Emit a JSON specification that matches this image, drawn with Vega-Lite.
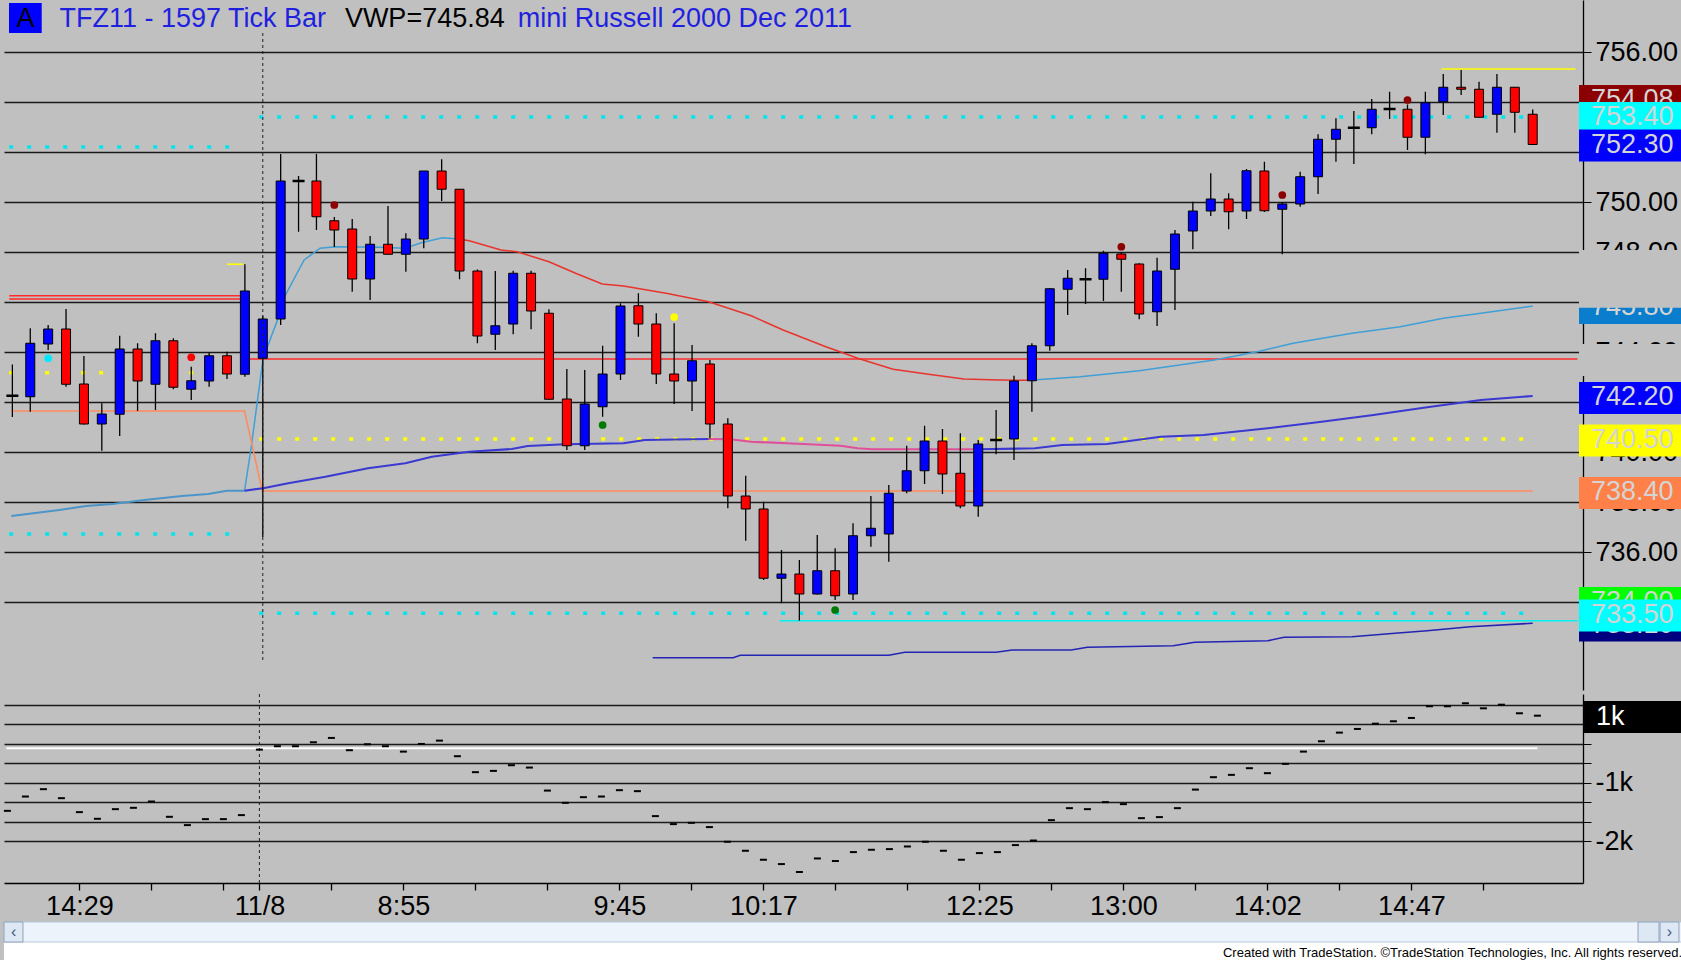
{
  "$schema": "https://vega.github.io/schema/vega-lite/v6.json",
  "background": "#c0c0c0",
  "padding": {"left": 3, "top": 0, "right": 0, "bottom": 0},
  "spacing": 0,
  "config": {"view": {"stroke": null}, "font": "Liberation Sans"},
  "datasets": {
    "one": [{}],
    "bars": [
      {"i":0,"o":742.25,"h":743.5,"l":741.4,"c":742.25},
      {"i":1,"o":742.21,"h":744.95,"l":741.61,"c":744.35},
      {"i":2,"o":744.32,"h":745.08,"l":744.08,"c":744.92},
      {"i":3,"o":744.92,"h":745.72,"l":742.61,"c":742.71},
      {"i":4,"o":742.72,"h":743.84,"l":741.1,"c":741.12},
      {"i":5,"o":741.12,"h":741.95,"l":740.05,"c":741.52},
      {"i":6,"o":741.51,"h":744.65,"l":740.64,"c":744.12},
      {"i":7,"o":744.12,"h":744.35,"l":741.64,"c":742.84},
      {"i":8,"o":742.71,"h":744.75,"l":741.68,"c":744.45},
      {"i":9,"o":744.45,"h":744.55,"l":742.51,"c":742.59},
      {"i":10,"o":742.51,"h":743.41,"l":742.08,"c":742.85},
      {"i":11,"o":742.84,"h":743.97,"l":742.61,"c":743.85},
      {"i":12,"o":743.85,"h":744.01,"l":742.92,"c":743.12},
      {"i":13,"o":743.11,"h":747.51,"l":743.01,"c":746.44},
      {"i":14,"o":743.75,"h":745.45,"l":736.6,"c":745.32},
      {"i":15,"o":745.32,"h":751.92,"l":745.08,"c":750.84},
      {"i":16,"o":750.84,"h":751.04,"l":748.81,"c":750.84},
      {"i":17,"o":750.84,"h":751.92,"l":748.88,"c":749.41},
      {"i":18,"o":749.25,"h":749.4,"l":748.2,"c":748.88},
      {"i":19,"o":748.92,"h":749.32,"l":746.41,"c":746.92},
      {"i":20,"o":746.92,"h":748.64,"l":746.08,"c":748.31},
      {"i":21,"o":748.31,"h":749.84,"l":747.9,"c":747.91},
      {"i":22,"o":747.91,"h":748.75,"l":747.21,"c":748.52},
      {"i":23,"o":748.52,"h":751.24,"l":748.15,"c":751.24},
      {"i":24,"o":751.24,"h":751.71,"l":750.04,"c":750.51},
      {"i":25,"o":750.51,"h":750.51,"l":746.91,"c":747.24},
      {"i":26,"o":747.24,"h":747.3,"l":744.35,"c":744.64},
      {"i":27,"o":744.71,"h":747.24,"l":744.08,"c":745.05},
      {"i":28,"o":745.12,"h":747.25,"l":744.71,"c":747.15},
      {"i":29,"o":747.15,"h":747.25,"l":744.91,"c":745.64},
      {"i":30,"o":745.55,"h":745.71,"l":742.1,"c":742.11},
      {"i":31,"o":742.12,"h":743.32,"l":740.08,"c":740.25},
      {"i":32,"o":740.25,"h":743.28,"l":740.08,"c":741.92},
      {"i":33,"o":741.81,"h":744.25,"l":741.41,"c":743.12},
      {"i":34,"o":743.12,"h":745.95,"l":742.88,"c":745.84},
      {"i":35,"o":745.85,"h":746.35,"l":744.61,"c":745.12},
      {"i":36,"o":745.12,"h":745.55,"l":742.72,"c":743.12},
      {"i":37,"o":743.12,"h":745.15,"l":741.92,"c":742.84},
      {"i":38,"o":742.84,"h":744.28,"l":741.64,"c":743.65},
      {"i":39,"o":743.52,"h":743.68,"l":740.55,"c":741.12},
      {"i":40,"o":741.12,"h":741.35,"l":737.75,"c":738.24},
      {"i":41,"o":738.24,"h":739.05,"l":736.45,"c":737.72},
      {"i":42,"o":737.72,"h":738.01,"l":734.88,"c":734.95},
      {"i":43,"o":734.95,"h":736.08,"l":733.95,"c":735.12},
      {"i":44,"o":735.12,"h":735.68,"l":733.25,"c":734.32},
      {"i":45,"o":734.32,"h":736.68,"l":734.3,"c":735.25},
      {"i":46,"o":735.25,"h":736.15,"l":734.08,"c":734.25},
      {"i":47,"o":734.32,"h":737.15,"l":734.08,"c":736.65},
      {"i":48,"o":736.65,"h":738.24,"l":736.21,"c":736.95},
      {"i":49,"o":736.72,"h":738.68,"l":735.61,"c":738.35},
      {"i":50,"o":738.44,"h":740.25,"l":738.35,"c":739.25},
      {"i":51,"o":739.25,"h":741.05,"l":738.72,"c":740.44},
      {"i":52,"o":740.44,"h":740.92,"l":738.32,"c":739.12},
      {"i":53,"o":739.15,"h":740.75,"l":737.75,"c":737.84},
      {"i":54,"o":737.84,"h":740.48,"l":737.41,"c":740.32},
      {"i":55,"o":740.48,"h":741.68,"l":739.91,"c":740.48},
      {"i":56,"o":740.52,"h":743.05,"l":739.68,"c":742.84},
      {"i":57,"o":742.85,"h":744.35,"l":741.61,"c":744.25},
      {"i":58,"o":744.25,"h":746.55,"l":744.05,"c":746.53},
      {"i":59,"o":746.51,"h":747.28,"l":745.48,"c":746.95},
      {"i":60,"o":746.91,"h":747.35,"l":745.92,"c":746.91},
      {"i":61,"o":746.91,"h":748.05,"l":746.04,"c":747.95},
      {"i":62,"o":747.92,"h":747.99,"l":746.41,"c":747.71},
      {"i":63,"o":747.52,"h":747.55,"l":745.31,"c":745.52},
      {"i":64,"o":745.61,"h":747.77,"l":745.04,"c":747.24},
      {"i":65,"o":747.31,"h":748.88,"l":745.68,"c":748.72},
      {"i":66,"o":748.84,"h":750.01,"l":748.11,"c":749.64},
      {"i":67,"o":749.64,"h":751.15,"l":749.44,"c":750.12},
      {"i":68,"o":750.12,"h":750.35,"l":748.91,"c":749.61},
      {"i":69,"o":749.64,"h":751.32,"l":749.32,"c":751.25},
      {"i":70,"o":751.24,"h":751.61,"l":749.6,"c":749.65},
      {"i":71,"o":749.71,"h":750.0,"l":747.91,"c":749.92},
      {"i":72,"o":749.92,"h":751.21,"l":749.81,"c":751.01},
      {"i":73,"o":751.01,"h":752.71,"l":750.32,"c":752.51},
      {"i":74,"o":752.51,"h":753.35,"l":751.61,"c":752.91},
      {"i":75,"o":752.97,"h":753.64,"l":751.52,"c":752.97},
      {"i":76,"o":752.97,"h":754.12,"l":752.71,"c":753.71},
      {"i":77,"o":753.72,"h":754.41,"l":753.32,"c":753.72},
      {"i":78,"o":753.71,"h":753.9,"l":752.08,"c":752.59},
      {"i":79,"o":752.59,"h":754.41,"l":751.91,"c":753.97},
      {"i":80,"o":754.01,"h":755.12,"l":753.48,"c":754.59},
      {"i":81,"o":754.59,"h":755.28,"l":754.28,"c":754.51},
      {"i":82,"o":754.51,"h":754.81,"l":753.39,"c":753.39},
      {"i":83,"o":753.51,"h":755.12,"l":752.77,"c":754.59},
      {"i":84,"o":754.59,"h":754.6,"l":752.77,"c":753.59},
      {"i":85,"o":753.51,"h":753.7,"l":752.3,"c":752.3}
    ],
    "levels": [
      {"k":"cyanDot","a":-0.18,"b":12.9,"p":752.2},
      {"k":"cyanDot","a":13.8,"b":85,"p":753.4},
      {"k":"cyanDot","a":-0.18,"b":12.9,"p":736.72},
      {"k":"cyanDot","a":13.8,"b":85,"p":733.55},
      {"k":"yellowDot","a":-0.18,"b":10.2,"p":743.17},
      {"k":"yellowDot","a":13.8,"b":85,"p":740.52},
      {"k":"redLvl","a":-0.18,"b":12.9,"p":746.25},
      {"k":"redLvl","a":-0.18,"b":12.9,"p":746.12},
      {"k":"redLvl","a":13.0,"b":87.5,"p":743.72},
      {"k":"yellowLvl","a":79.9,"b":87.4,"p":755.32},
      {"k":"yellowLvl","a":12.0,"b":12.9,"p":747.51},
      {"k":"cyanLvl","a":42.9,"b":87.5,"p":733.25}
    ],
    "lines": [
      {"k":"vA1","i":12.98,"p":738.45},{"k":"vA1","i":13.33,"p":740.08},{"k":"vA1","i":14.02,"p":743.75},
      {"k":"vA1","i":14.82,"p":745.28},{"k":"vA1","i":15.12,"p":746.08},{"k":"vA1","i":16.31,"p":747.68},
      {"k":"vA1","i":17.2,"p":748.15},{"k":"vA1","i":18.09,"p":748.21},{"k":"vA1","i":20.48,"p":748.19},
      {"k":"vA1","i":21.97,"p":748.15},{"k":"vA1","i":22.86,"p":748.37},{"k":"vA1","i":24.05,"p":748.57},
      {"k":"vA1","i":24.94,"p":748.52},
      {"k":"vA2","i":24.94,"p":748.52},{"k":"vA2","i":25.54,"p":748.45},{"k":"vA2","i":27.32,"p":748.08},
      {"k":"vA2","i":28.22,"p":748.01},{"k":"vA2","i":30.0,"p":747.61},{"k":"vA2","i":31.49,"p":747.15},
      {"k":"vA2","i":32.98,"p":746.72},{"k":"vA2","i":34.17,"p":746.64},{"k":"vA2","i":36.55,"p":746.35},
      {"k":"vA2","i":38.93,"p":746.01},{"k":"vA2","i":41.31,"p":745.45},{"k":"vA2","i":43.09,"p":744.88},
      {"k":"vA2","i":45.48,"p":744.21},{"k":"vA2","i":46.27,"p":744.01},{"k":"vA2","i":47.26,"p":743.75},
      {"k":"vA2","i":49.24,"p":743.31},{"k":"vA2","i":51.22,"p":743.11},{"k":"vA2","i":53.2,"p":742.92},
      {"k":"vA2","i":55.19,"p":742.88},{"k":"vA2","i":56.85,"p":742.87},
      {"k":"vA3","i":56.85,"p":742.87},{"k":"vA3","i":59.7,"p":743.01},{"k":"vA3","i":63.0,"p":743.25},
      {"k":"vA3","i":67.2,"p":743.68},{"k":"vA3","i":69.6,"p":744.01},{"k":"vA3","i":71.6,"p":744.35},
      {"k":"vA3","i":74.9,"p":744.75},{"k":"vA3","i":77.6,"p":745.01},{"k":"vA3","i":80.0,"p":745.35},
      {"k":"vA3","i":82.1,"p":745.55},{"k":"vA3","i":85.0,"p":745.84},
      {"k":"vB0","i":-0.06,"p":737.44},{"k":"vB0","i":2.62,"p":737.68},{"k":"vB0","i":4.11,"p":737.84},
      {"k":"vB0","i":5.6,"p":737.92},{"k":"vB0","i":7.38,"p":738.08},{"k":"vB0","i":9.47,"p":738.24},
      {"k":"vB0","i":10.95,"p":738.32},{"k":"vB0","i":11.99,"p":738.45},{"k":"vB0","i":12.98,"p":738.45},
      {"k":"vB1","i":12.98,"p":738.45},{"k":"vB1","i":14.02,"p":738.55},{"k":"vB1","i":15.42,"p":738.75},
      {"k":"vB1","i":17.5,"p":739.01},{"k":"vB1","i":19.88,"p":739.35},{"k":"vB1","i":21.97,"p":739.55},
      {"k":"vB1","i":23.45,"p":739.81},{"k":"vB1","i":25.54,"p":740.01},{"k":"vB1","i":27.92,"p":740.12},
      {"k":"vB1","i":28.81,"p":740.24},{"k":"vB1","i":30.89,"p":740.31},{"k":"vB1","i":34.17,"p":740.35},
      {"k":"vB1","i":35.36,"p":740.48},{"k":"vB1","i":38.93,"p":740.52},
      {"k":"vB2","i":38.93,"p":740.52},{"k":"vB2","i":40.12,"p":740.51},{"k":"vB2","i":41.31,"p":740.41},
      {"k":"vB2","i":43.29,"p":740.35},{"k":"vB2","i":46.3,"p":740.25},{"k":"vB2","i":47.26,"p":740.15},
      {"k":"vB2","i":48.05,"p":740.11},{"k":"vB2","i":54.0,"p":740.11},
      {"k":"vB3","i":54.0,"p":740.11},{"k":"vB3","i":57.17,"p":740.15},{"k":"vB3","i":58.7,"p":740.28},
      {"k":"vB3","i":61.2,"p":740.32},{"k":"vB3","i":64.2,"p":740.61},{"k":"vB3","i":66.6,"p":740.68},
      {"k":"vB3","i":70.2,"p":740.95},{"k":"vB3","i":73.2,"p":741.21},{"k":"vB3","i":76.1,"p":741.48},
      {"k":"vB3","i":79.1,"p":741.79},{"k":"vB3","i":82.1,"p":742.08},{"k":"vB3","i":85.0,"p":742.24},
      {"k":"vC","i":35.8,"p":731.77},{"k":"vC","i":40.3,"p":731.77},{"k":"vC","i":40.7,"p":731.87},
      {"k":"vC","i":49.0,"p":731.87},{"k":"vC","i":49.9,"p":731.99},{"k":"vC","i":55.0,"p":731.99},
      {"k":"vC","i":55.9,"p":732.08},{"k":"vC","i":59.2,"p":732.08},{"k":"vC","i":60.1,"p":732.19},
      {"k":"vC","i":64.9,"p":732.25},{"k":"vC","i":66.1,"p":732.39},{"k":"vC","i":70.2,"p":732.45},
      {"k":"vC","i":71.1,"p":732.59},{"k":"vC","i":74.9,"p":732.61},{"k":"vC","i":77.3,"p":732.75},
      {"k":"vC","i":79.1,"p":732.85},{"k":"vC","i":81.5,"p":733.01},{"k":"vC","i":85.0,"p":733.15},
      {"k":"vO","i":-0.05,"p":741.64},{"k":"vO","i":12.98,"p":741.64},{"k":"vO","i":13.97,"p":738.44},
      {"k":"vO","i":85.0,"p":738.44}
    ],
    "dots": [
      {"k":"cyan","i":2,"p":743.75},
      {"k":"red","i":10,"p":743.79},
      {"k":"dark","i":18,"p":749.88},
      {"k":"green","i":33,"p":741.08},
      {"k":"yellow","i":37,"p":745.4},
      {"k":"green","i":46,"p":733.68},
      {"k":"dark","i":62,"p":748.21},
      {"k":"dark","i":71,"p":750.28},
      {"k":"dark","i":78,"p":754.08}
    ],
    "tags": [
      {"g":1,"k":"dark","p":754.08,"t":"754.08"},
      {"g":1,"k":"steel","p":745.8,"t":"745.80"},
      {"g":1,"k":"green","p":734.0,"t":"734.00"},
      {"g":2,"k":"gray","p":747.48,"t":""},
      {"g":2,"k":"gray","p":746.45,"t":""},
      {"g":2,"k":"gray","p":743.72,"t":""},
      {"g":2,"k":"cyan","p":753.4,"t":"753.40"},
      {"g":2,"k":"blue","p":742.2,"t":"742.20"},
      {"g":2,"k":"yellow","p":740.5,"t":"740.50"},
      {"g":2,"k":"orange","p":738.4,"t":"738.40"},
      {"g":2,"k":"navy","p":733.1,"t":"733.10"},
      {"g":3,"k":"blue","p":752.3,"t":"752.30"},
      {"g":3,"k":"cyan","p":733.5,"t":"733.50"}
    ],
    "cum": [
      {"i":0,"v":-1482},{"i":1,"v":-1237},{"i":2,"v":-1111},{"i":3,"v":-1265},{"i":4,"v":-1504},
      {"i":5,"v":-1618},{"i":6,"v":-1453},{"i":7,"v":-1430},{"i":8,"v":-1322},{"i":9,"v":-1584},
      {"i":10,"v":-1726},{"i":11,"v":-1624},{"i":12,"v":-1624},{"i":13,"v":-1555},{"i":14,"v":-434},
      {"i":15,"v":-376},{"i":16,"v":-376},{"i":17,"v":-308},{"i":18,"v":-234},{"i":19,"v":-444},
      {"i":20,"v":-342},{"i":21,"v":-376},{"i":22,"v":-468},{"i":23,"v":-337},{"i":24,"v":-280},
      {"i":25,"v":-547},{"i":26,"v":-820},{"i":27,"v":-798},{"i":28,"v":-701},{"i":29,"v":-741},
      {"i":30,"v":-1135},{"i":31,"v":-1345},{"i":32,"v":-1248},{"i":33,"v":-1237},{"i":34,"v":-1128},
      {"i":35,"v":-1145},{"i":36,"v":-1572},{"i":37,"v":-1709},{"i":38,"v":-1687},{"i":39,"v":-1760},
      {"i":40,"v":-2011},{"i":41,"v":-2165},{"i":42,"v":-2319},{"i":43,"v":-2393},{"i":44,"v":-2529},
      {"i":45,"v":-2297},{"i":46,"v":-2341},{"i":47,"v":-2188},{"i":48,"v":-2148},{"i":49,"v":-2137},
      {"i":50,"v":-2092},{"i":51,"v":-2011},{"i":52,"v":-2165},{"i":53,"v":-2319},{"i":54,"v":-2205},
      {"i":55,"v":-2188},{"i":56,"v":-2068},{"i":57,"v":-1990},{"i":58,"v":-1641},{"i":59,"v":-1436},
      {"i":60,"v":-1453},{"i":61,"v":-1333},{"i":62,"v":-1367},{"i":63,"v":-1607},{"i":64,"v":-1589},
      {"i":65,"v":-1436},{"i":66,"v":-1118},{"i":67,"v":-906},{"i":68,"v":-866},{"i":69,"v":-752},
      {"i":70,"v":-837},{"i":71,"v":-678},{"i":72,"v":-468},{"i":73,"v":-291},{"i":74,"v":-143},
      {"i":75,"v":-80},{"i":76,"v":10},{"i":77,"v":51},{"i":78,"v":108},{"i":79,"v":308},
      {"i":80,"v":308},{"i":81,"v":359},{"i":82,"v":273},{"i":83,"v":335},{"i":84,"v":188},
      {"i":85,"v":147}
    ]
  },
  "vconcat": [
    {
      "width": 1579,
      "height": 690,
      "resolve": {"scale": {"color": "independent"}},
      "layer": [
        {
          "data": {"name": "levels"},
          "transform": [{"filter": "datum.k == 'cyanDot' || datum.k == 'yellowDot'"}],
          "mark": {"type": "rule", "strokeDash": [4, 14], "strokeWidth": 3.5},
          "encoding": {
            "x": {"field": "a", "type": "quantitative", "scale": {"domain": [-0.189, 87.533], "nice": false, "zero": false}, "axis": null},
            "x2": {"field": "b"},
            "y": {"field": "p", "type": "quantitative", "title": null,
              "scale": {"domain": [730.48, 758.08], "nice": false, "zero": false},
              "axis": {"orient": "right", "values": [734, 736, 738, 740, 742, 744, 746, 748, 750, 752, 754, 756], "format": ".2f", "tickCount": 30,
                "grid": true, "gridColor": "#1a1a1a", "gridWidth": 1.3, "domainColor": "#000000", "domainWidth": 1.3,
                "tickColor": "#000000", "tickSize": 8, "labelFontSize": 27, "labelFont": "Liberation Sans", "labelColor": "#000000",
                "labelPadding": 4, "labelFlush": false, "labelOverlap": false, "title": null}},
            "color": {"field": "k", "type": "nominal", "scale": {"domain": ["cyanDot", "yellowDot"], "range": ["#00e5ee", "#ffff00"]}, "legend": null}
          }
        },
        {
          "data": {"name": "levels"},
          "transform": [{"filter": "datum.k != 'cyanDot' && datum.k != 'yellowDot'"}],
          "mark": {"type": "rule", "strokeWidth": 1.6},
          "encoding": {
            "x": {"field": "a", "type": "quantitative", "scale": {"domain": [-0.189, 87.533], "nice": false, "zero": false}, "axis": null},
            "x2": {"field": "b"},
            "y": {"field": "p", "type": "quantitative", "title": null, "scale": {"domain": [730.48, 758.08], "nice": false, "zero": false}},
            "color": {"field": "k", "type": "nominal", "scale": {"domain": ["redLvl", "yellowLvl", "cyanLvl"], "range": ["#ff2a2a", "#ffff00", "#00f2f2"]}, "legend": null}
          }
        },
        {
          "data": {"name": "lines"},
          "transform": [{"filter": "indexof(['vB0','vB1','vB2','vB3'], datum.k) < 0"}],
          "mark": {"type": "line", "strokeWidth": 1.5},
          "encoding": {
            "x": {"field": "i", "type": "quantitative", "scale": {"domain": [-0.189, 87.533], "nice": false, "zero": false}, "axis": null},
            "y": {"field": "p", "type": "quantitative", "title": null, "scale": {"domain": [730.48, 758.08], "nice": false, "zero": false}},
            "color": {"field": "k", "type": "nominal", "scale": {"domain": ["vA1", "vA2", "vA3", "vC", "vO"], "range": ["#3f9fd6", "#e8342c", "#3f9fd6", "#2424b4", "#ff8a5c"]}, "legend": null}
          }
        },
        {
          "data": {"name": "lines"},
          "transform": [{"filter": "indexof(['vB0','vB1','vB2','vB3'], datum.k) >= 0"}],
          "mark": {"type": "line", "strokeWidth": 2.2},
          "encoding": {
            "x": {"field": "i", "type": "quantitative", "scale": {"domain": [-0.189, 87.533], "nice": false, "zero": false}, "axis": null},
            "y": {"field": "p", "type": "quantitative", "title": null, "scale": {"domain": [730.48, 758.08], "nice": false, "zero": false}},
            "color": {"field": "k", "type": "nominal", "scale": {"domain": ["vB0", "vB1", "vB2", "vB3"], "range": ["#4d95c8", "#3a3ad2", "#e0509a", "#3a3ad2"]}, "legend": null}
          }
        },
        {
          "data": {"name": "bars"},
          "mark": {"type": "rule", "color": "#000000", "strokeWidth": 1.3},
          "encoding": {
            "x": {"field": "i", "type": "quantitative", "scale": {"domain": [-0.189, 87.533], "nice": false, "zero": false}, "axis": null},
            "y": {"field": "l", "type": "quantitative", "title": null, "scale": {"domain": [730.48, 758.08], "nice": false, "zero": false}},
            "y2": {"field": "h"}
          }
        },
        {
          "data": {"name": "bars"},
          "mark": {"type": "bar", "width": 9, "stroke": "#000000", "strokeWidth": 1},
          "encoding": {
            "x": {"field": "i", "type": "quantitative", "scale": {"domain": [-0.189, 87.533], "nice": false, "zero": false}, "axis": null},
            "y": {"field": "o", "type": "quantitative", "title": null, "scale": {"domain": [730.48, 758.08], "nice": false, "zero": false}},
            "y2": {"field": "c"},
            "color": {"condition": {"test": "datum.c > datum.o", "value": "#0000ff"}, "value": "#ff0000"}
          }
        },
        {
          "data": {"name": "bars"},
          "transform": [{"filter": "datum.o == datum.c"}],
          "mark": {"type": "tick", "orient": "horizontal", "size": 12, "thickness": 2.5, "color": "#000000", "opacity": 1},
          "encoding": {
            "x": {"field": "i", "type": "quantitative", "scale": {"domain": [-0.189, 87.533], "nice": false, "zero": false}, "axis": null},
            "y": {"field": "o", "type": "quantitative", "title": null, "scale": {"domain": [730.48, 758.08], "nice": false, "zero": false}}
          }
        },
        {
          "data": {"name": "dots"},
          "mark": {"type": "point", "shape": "circle", "filled": true, "size": 60, "opacity": 1},
          "encoding": {
            "x": {"field": "i", "type": "quantitative", "scale": {"domain": [-0.189, 87.533], "nice": false, "zero": false}, "axis": null},
            "y": {"field": "p", "type": "quantitative", "title": null, "scale": {"domain": [730.48, 758.08], "nice": false, "zero": false}},
            "color": {"field": "k", "type": "nominal", "scale": {"domain": ["cyan", "red", "dark", "green", "yellow"], "range": ["#00e8ff", "#ff0000", "#8b0000", "#007a00", "#ffff00"]}, "legend": null}
          }
        },
        {
          "data": {"name": "one"},
          "mark": {"type": "rule", "strokeDash": [3, 3], "color": "#222222", "strokeWidth": 1},
          "encoding": {
            "x": {"datum": 14, "scale": {"domain": [-0.189, 87.533], "nice": false, "zero": false}, "axis": null},
            "y": {"datum": 756.76},
            "y2": {"datum": 731.68}
          }
        },
        {
          "data": {"name": "tags"},
          "transform": [{"filter": "datum.g == 1"}],
          "mark": {"type": "rect", "yOffset": -15, "y2Offset": 17},
          "encoding": {
            "x": {"datum": 87.59, "scale": {"domain": [-0.189, 87.533], "nice": false, "zero": false}, "axis": null},
            "x2": {"datum": 93.6},
            "y": {"field": "p", "type": "quantitative", "title": null, "scale": {"domain": [730.48, 758.08], "nice": false, "zero": false}},
            "y2": {"field": "p"},
            "color": {"field": "k", "type": "nominal", "scale": {"domain": ["dark", "cyan", "blue", "steel", "yellow", "orange", "green", "navy", "gray"], "range": ["#8b0000", "#00ffff", "#0000ff", "#0a7dcc", "#ffff00", "#ff8048", "#00ff00", "#000080", "#c0c0c0"]}, "legend": null}
          }
        },
        {
          "data": {"name": "tags"},
          "transform": [{"filter": "datum.g == 1"}],
          "mark": {"type": "text", "align": "left", "baseline": "middle", "fontSize": 27, "color": "#d4d4d4"},
          "encoding": {
            "x": {"datum": 88.26, "scale": {"domain": [-0.189, 87.533], "nice": false, "zero": false}, "axis": null},
            "y": {"field": "p", "type": "quantitative", "title": null, "scale": {"domain": [730.48, 758.08], "nice": false, "zero": false}},
            "text": {"field": "t"}
          }
        },
        {
          "data": {"name": "tags"},
          "transform": [{"filter": "datum.g == 2"}],
          "mark": {"type": "rect", "yOffset": -15, "y2Offset": 17},
          "encoding": {
            "x": {"datum": 87.59, "scale": {"domain": [-0.189, 87.533], "nice": false, "zero": false}, "axis": null},
            "x2": {"datum": 93.6},
            "y": {"field": "p", "type": "quantitative", "title": null, "scale": {"domain": [730.48, 758.08], "nice": false, "zero": false}},
            "y2": {"field": "p"},
            "color": {"field": "k", "type": "nominal", "scale": {"domain": ["dark", "cyan", "blue", "steel", "yellow", "orange", "green", "navy", "gray"], "range": ["#8b0000", "#00ffff", "#0000ff", "#0a7dcc", "#ffff00", "#ff8048", "#00ff00", "#000080", "#c0c0c0"]}, "legend": null}
          }
        },
        {
          "data": {"name": "tags"},
          "transform": [{"filter": "datum.g == 2"}],
          "mark": {"type": "text", "align": "left", "baseline": "middle", "fontSize": 27, "color": "#d4d4d4"},
          "encoding": {
            "x": {"datum": 88.26, "scale": {"domain": [-0.189, 87.533], "nice": false, "zero": false}, "axis": null},
            "y": {"field": "p", "type": "quantitative", "title": null, "scale": {"domain": [730.48, 758.08], "nice": false, "zero": false}},
            "text": {"field": "t"}
          }
        },
        {
          "data": {"name": "tags"},
          "transform": [{"filter": "datum.g == 3"}],
          "mark": {"type": "rect", "yOffset": -15, "y2Offset": 17},
          "encoding": {
            "x": {"datum": 87.59, "scale": {"domain": [-0.189, 87.533], "nice": false, "zero": false}, "axis": null},
            "x2": {"datum": 93.6},
            "y": {"field": "p", "type": "quantitative", "title": null, "scale": {"domain": [730.48, 758.08], "nice": false, "zero": false}},
            "y2": {"field": "p"},
            "color": {"field": "k", "type": "nominal", "scale": {"domain": ["dark", "cyan", "blue", "steel", "yellow", "orange", "green", "navy", "gray"], "range": ["#8b0000", "#00ffff", "#0000ff", "#0a7dcc", "#ffff00", "#ff8048", "#00ff00", "#000080", "#c0c0c0"]}, "legend": null}
          }
        },
        {
          "data": {"name": "tags"},
          "transform": [{"filter": "datum.g == 3"}],
          "mark": {"type": "text", "align": "left", "baseline": "middle", "fontSize": 27, "color": "#d4d4d4"},
          "encoding": {
            "x": {"datum": 88.26, "scale": {"domain": [-0.189, 87.533], "nice": false, "zero": false}, "axis": null},
            "y": {"field": "p", "type": "quantitative", "title": null, "scale": {"domain": [730.48, 758.08], "nice": false, "zero": false}},
            "text": {"field": "t"}
          }
        },
        {
          "data": {"name": "one"},
          "mark": {"type": "rect", "color": "#0000ff"},
          "encoding": {
            "x": {"datum": -0.189, "scale": {"domain": [-0.189, 87.533], "nice": false, "zero": false}, "axis": null},
            "x2": {"datum": 1.64},
            "y": {"datum": 757.96},
            "y2": {"datum": 756.76}
          }
        },
        {
          "data": {"name": "one"},
          "mark": {"type": "text", "text": "A", "align": "center", "baseline": "middle", "fontSize": 27, "color": "#000000"},
          "encoding": {
            "x": {"datum": 0.73, "scale": {"domain": [-0.189, 87.533], "nice": false, "zero": false}, "axis": null},
            "y": {"datum": 757.34}
          }
        },
        {
          "data": {"name": "one"},
          "mark": {"type": "text", "text": "TFZ11 - 1597 Tick Bar", "align": "left", "baseline": "middle", "fontSize": 27, "color": "#1f1fe0"},
          "encoding": {
            "x": {"datum": 2.63, "scale": {"domain": [-0.189, 87.533], "nice": false, "zero": false}, "axis": null},
            "y": {"datum": 757.32}
          }
        },
        {
          "data": {"name": "one"},
          "mark": {"type": "text", "text": "VWP=745.84", "align": "left", "baseline": "middle", "fontSize": 27, "color": "#000000"},
          "encoding": {
            "x": {"datum": 18.59, "scale": {"domain": [-0.189, 87.533], "nice": false, "zero": false}, "axis": null},
            "y": {"datum": 757.32}
          }
        },
        {
          "data": {"name": "one"},
          "mark": {"type": "text", "text": "mini Russell 2000 Dec 2011", "align": "left", "baseline": "middle", "fontSize": 27, "color": "#1f1fe0"},
          "encoding": {
            "x": {"datum": 28.26, "scale": {"domain": [-0.189, 87.533], "nice": false, "zero": false}, "axis": null},
            "y": {"datum": 757.32}
          }
        }
      ]
    },
    {
      "width": 1579,
      "height": 189,
      "layer": [
        {
          "data": {"name": "one"},
          "mark": {"type": "rule", "color": "#ffffff", "strokeWidth": 2},
          "encoding": {
            "x": {"datum": -0.06, "scale": {"domain": [-0.189, 87.533], "nice": false, "zero": false}},
            "x2": {"datum": 85},
            "y": {"datum": -410, "scale": {"domain": [-2717, 518], "nice": false, "zero": false}}
          }
        },
        {
          "data": {"name": "one"},
          "mark": {"type": "rule", "strokeDash": [3, 3], "color": "#222222", "strokeWidth": 1},
          "encoding": {
            "x": {"datum": 14, "scale": {"domain": [-0.189, 87.533], "nice": false, "zero": false}},
            "y": {"datum": 518},
            "y2": {"datum": -2717}
          }
        },
        {
          "data": {"name": "cum"},
          "mark": {"type": "tick", "orient": "horizontal", "size": 7, "thickness": 2, "color": "#000000", "opacity": 1},
          "encoding": {
            "x": {"field": "i", "type": "quantitative", "title": null,
              "scale": {"domain": [-0.189, 87.533], "nice": false, "zero": false},
              "axis": {"values": [4, 8, 12, 14, 18, 22, 26, 30, 34, 38, 42, 46, 50, 54, 58, 62, 66, 70, 74, 78, 82], "tickCount": 60,
                "labelExpr": "datum.value==4?'14:29':datum.value==14?'11/8':datum.value==22?'8:55':datum.value==34?'9:45':datum.value==42?'10:17':datum.value==54?'12:25':datum.value==62?'13:00':datum.value==70?'14:02':datum.value==78?'14:47':''",
                "grid": false, "tickSize": 7, "tickColor": "#000000", "tickWidth": 1.3, "domainColor": "#000000", "domainWidth": 1.5,
                "labelFontSize": 27, "labelFont": "Liberation Sans", "labelColor": "#000000", "labelPadding": 3,
                "labelFlush": false, "labelOverlap": false, "title": null}},
            "y": {"field": "v", "type": "quantitative", "title": null,
              "scale": {"domain": [-2717, 518], "nice": false, "zero": false},
              "axis": {"orient": "right", "values": [333.333, 0, -333.333, -666.667, -1000, -1333.333, -1666.667, -2000], "tickCount": 30,
                "labelExpr": "datum.value==-1000?'-1k':datum.value==-2000?'-2k':''",
                "grid": true, "gridColor": "#1a1a1a", "gridWidth": 1.3, "domainColor": "#000000", "domainWidth": 1.3,
                "tickColor": "#000000", "tickSize": 8, "labelFontSize": 27, "labelFont": "Liberation Sans", "labelColor": "#000000",
                "labelPadding": 4, "labelFlush": false, "labelOverlap": false, "title": null}}
          }
        },
        {
          "data": {"name": "one"},
          "mark": {"type": "rect", "color": "#000000", "yOffset": -16, "y2Offset": 16},
          "encoding": {
            "x": {"datum": 87.59, "scale": {"domain": [-0.189, 87.533], "nice": false, "zero": false}},
            "x2": {"datum": 93.6},
            "y": {"datum": 125},
            "y2": {"datum": 125}
          }
        },
        {
          "data": {"name": "one"},
          "mark": {"type": "text", "text": "1k", "align": "left", "baseline": "middle", "fontSize": 27, "color": "#ffffff"},
          "encoding": {
            "x": {"datum": 88.26, "scale": {"domain": [-0.189, 87.533], "nice": false, "zero": false}},
            "y": {"datum": 125}
          }
        }
      ]
    },
    {
      "width": 1678,
      "height": 41,
      "layer": [
        {
          "data": {"name": "one"},
          "mark": {"type": "rect", "fill": "#ffffff"},
          "encoding": {
            "x": {"datum": 0, "scale": {"domain": [0, 1]}, "axis": null},
            "x2": {"datum": 1},
            "y": {"datum": 0.44, "scale": {"domain": [0, 1]}, "axis": null},
            "y2": {"datum": 0}
          }
        },
        {
          "data": {"name": "one"},
          "mark": {"type": "rect", "fill": "#edf3fa", "stroke": "#b8c8da", "strokeWidth": 1},
          "encoding": {
            "x": {"datum": 0, "scale": {"domain": [0, 1]}, "axis": null},
            "x2": {"datum": 1},
            "y": {"datum": 0.927, "scale": {"domain": [0, 1]}, "axis": null},
            "y2": {"datum": 0.439}
          }
        },
        {
          "data": {"name": "one"},
          "mark": {"type": "rect", "fill": "#dde8f4", "stroke": "#8ea4bc", "strokeWidth": 1},
          "encoding": {
            "x": {"datum": 0, "scale": {"domain": [0, 1]}, "axis": null},
            "x2": {"datum": 0.0113},
            "y": {"datum": 0.927, "scale": {"domain": [0, 1]}, "axis": null},
            "y2": {"datum": 0.439}
          }
        },
        {
          "data": {"name": "one"},
          "mark": {"type": "rect", "fill": "#dde8f4", "stroke": "#8ea4bc", "strokeWidth": 1},
          "encoding": {
            "x": {"datum": 0.9738, "scale": {"domain": [0, 1]}, "axis": null},
            "x2": {"datum": 0.9863},
            "y": {"datum": 0.927, "scale": {"domain": [0, 1]}, "axis": null},
            "y2": {"datum": 0.439}
          }
        },
        {
          "data": {"name": "one"},
          "mark": {"type": "rect", "fill": "#dde8f4", "stroke": "#8ea4bc", "strokeWidth": 1},
          "encoding": {
            "x": {"datum": 0.9869, "scale": {"domain": [0, 1]}, "axis": null},
            "x2": {"datum": 0.9982},
            "y": {"datum": 0.927, "scale": {"domain": [0, 1]}, "axis": null},
            "y2": {"datum": 0.439}
          }
        },
        {
          "data": {"name": "one"},
          "mark": {"type": "text", "text": "‹", "align": "center", "baseline": "middle", "fontSize": 16, "color": "#3a5a7a"},
          "encoding": {
            "x": {"datum": 0.0057, "scale": {"domain": [0, 1]}, "axis": null},
            "y": {"datum": 0.69, "scale": {"domain": [0, 1]}, "axis": null}
          }
        },
        {
          "data": {"name": "one"},
          "mark": {"type": "text", "text": "›", "align": "center", "baseline": "middle", "fontSize": 16, "color": "#3a5a7a"},
          "encoding": {
            "x": {"datum": 0.9925, "scale": {"domain": [0, 1]}, "axis": null},
            "y": {"datum": 0.69, "scale": {"domain": [0, 1]}, "axis": null}
          }
        },
        {
          "data": {"name": "one"},
          "mark": {"type": "text", "text": "Created with TradeStation. ©TradeStation Technologies, Inc. All rights reserved.", "align": "right", "baseline": "middle", "fontSize": 13, "color": "#000000"},
          "encoding": {
            "x": {"datum": 1, "scale": {"domain": [0, 1]}, "axis": null},
            "y": {"datum": 0.171, "scale": {"domain": [0, 1]}, "axis": null}
          }
        }
      ]
    }
  ]
}
